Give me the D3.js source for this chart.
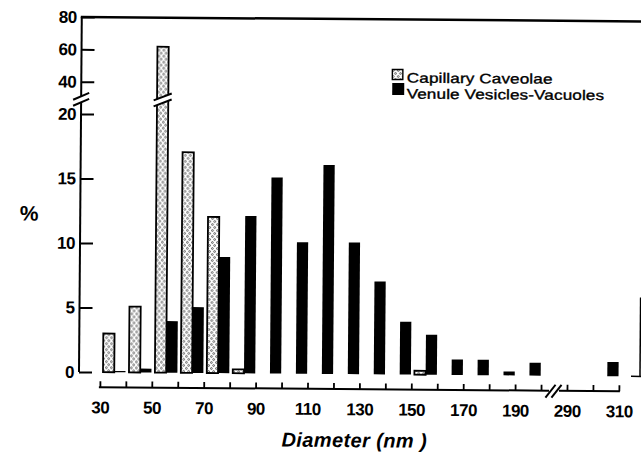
<!DOCTYPE html>
<html>
<head>
<meta charset="utf-8">
<script src="https://cdn.jsdelivr.net/npm/d3@7"></script>
<style>
  body { margin: 0; background: #fff; }
  svg { display: block; font-family: "Liberation Sans", Arial, Helvetica, sans-serif; }
</style>
</head>
<body>
<div id="container"></div>
<script>
// bin = left edge of each 10 nm class (the last one sits after the axis break)
const bins = [30, 40, 50, 60, 70, 80, 90, 100, 110, 120, 130, 140, 150, 160, 170, 180, 190, 300];
const capillary = [3, 5.1, 62, 17.1, 12.1, 0.3, 0, 0, 0, 0, 0, 0, 0.3, 0, 0, 0, 0, 0];
const venule = [0.1, 0.3, 4, 5.1, 9, 12.2, 15.2, 10.2, 16.2, 10.2, 7.2, 4.1, 3.1, 1.2, 1.2, 0.3, 1, 1.1];

const xTicks = [30, 40, 50, 60, 70, 80, 90, 100, 110, 120, 130, 140, 150, 160, 170, 180, 190, 200, 290, 300, 310];
const xLabels = [30, 50, 70, 90, 110, 130, 150, 170, 190, 290, 310];
const yTicks = [0, 5, 10, 15, 20, 40, 60, 80];
const seriesNames = ["Capillary Caveolae", "Venule Vesicles-Vacuoles"];

const setAttrs = (el, attrs) =>
  Object.entries(attrs).reduce((acc, [key, val]) => acc.attr(key, val), el);

// the x axis skips 200..280 nm
const toAxis = (v) => (v > 250 ? v - 80 : v);
const fromAxis = (v) => (v > 200 ? v + 80 : v);

const svg = d3.select("#container").append("svg");
setAttrs(svg, { width: 641, height: 453 });

const defs = svg.append("defs");
const pat = defs.append("pattern");
setAttrs(pat, { id: "dots", width: 5, height: 6, patternUnits: "userSpaceOnUse" });
setAttrs(pat.append("rect"), { width: 5, height: 6, fill: "#fff" });
[[1.4, 1.5], [3.6, 4.5]].forEach(([cx, cy]) => {
  setAttrs(pat.append("circle"), { cx, cy, r: 0.9, fill: "none", stroke: "#222", "stroke-width": 0.7 });
});

// the scan is slightly tilted
const g = svg.append("g");
setAttrs(g, { transform: "rotate(0.45, 79, 372)" });

const x = d3.scaleLinear().domain([30, 230]).range([100, 619]);
const y = d3.scaleLinear().domain([0, 20, 80]).range([372, 114, 17]);
const band = d3.scaleBand().domain(seriesNames).range([3, 25.5]);
const axisX = 79;
const axisY = 387;

const breakMark = (cx, cy, hw) => {
  const pts = [[cx - hw, cy + 2], [cx + hw, cy - 5], [cx + hw, cy + 1], [cx - hw, cy + 8]];
  setAttrs(g.append("polygon"), { points: pts.join(" "), fill: "#fff" });
  [[pts[0], pts[1]], [pts[3], pts[2]]].forEach(([a, b]) => {
    setAttrs(g.append("line"), {
      x1: a[0], y1: a[1], x2: b[0], y2: b[1], stroke: "#000", "stroke-width": 2
    });
  });
};

// bars
const capData = bins.map((b, i) => ({ b, v: capillary[i] })).filter((d) => d.v > 0);
const venData = bins.map((b, i) => ({ b, v: venule[i] })).filter((d) => d.v > 0);

g.selectAll(".cap")
  .data(capData)
  .join("rect")
  .attr("class", "cap")
  .attr("x", (d) => x(toAxis(d.b)) + band(seriesNames[0]))
  .attr("y", (d) => y(d.v))
  .attr("width", band.bandwidth())
  .attr("height", (d) => y(0) - y(d.v))
  .attr("fill", "url(#dots)")
  .attr("stroke", "#000")
  .attr("stroke-width", 1.8);

g.selectAll(".ven")
  .data(venData)
  .join("rect")
  .attr("class", "ven")
  .attr("x", (d) => x(toAxis(d.b)) + band(seriesNames[1]))
  .attr("y", (d) => y(d.v))
  .attr("width", band.bandwidth())
  .attr("height", (d) => y(0) - y(d.v))
  .attr("fill", "#000");

// y axis
const yAxis = d3.axisLeft(y).tickValues(yTicks).tickSizeInner(-13).tickSizeOuter(0).tickPadding(5);
const yg = g.append("g").call(yAxis);
setAttrs(yg, { transform: `translate(${axisX},0)` });
yg.select(".domain").remove();
yg.selectAll("line").attr("stroke", "#000").attr("stroke-width", 2);
yg.selectAll("text")
  .attr("fill", "#000")
  .attr("font-size", 17)
  .attr("font-weight", "bold")
  .attr("letter-spacing", -0.5)
  .attr("font-family", "Liberation Sans, Arial, sans-serif");

setAttrs(g.append("line"), {
  x1: axisX, y1: y(80), x2: axisX, y2: y(0), stroke: "#000", "stroke-width": 2
});
setAttrs(g.append("line"), {
  x1: axisX - 1, y1: y(80), x2: 650, y2: y(80), stroke: "#000", "stroke-width": 2.5
});
// right frame remains
setAttrs(g.append("line"), { x1: 640, y1: 293, x2: 640, y2: y(0), stroke: "#000", "stroke-width": 1.5 });
setAttrs(g.append("line"), { x1: 631, y1: y(0), x2: 641, y2: y(0), stroke: "#000", "stroke-width": 1.5 });

breakMark(axisX, y(30), 8);
const big = capData.find((d) => d.v > 20);
breakMark(x(toAxis(big.b)) + band(seriesNames[0]) + band.bandwidth() / 2, y(30), 9);

// x axis
const xAxis = d3.axisBottom(x)
  .tickValues(xTicks.map(toAxis))
  .tickSizeInner(-6)
  .tickSizeOuter(0)
  .tickPadding(14)
  .tickFormat((d) => (xLabels.includes(fromAxis(d)) ? fromAxis(d) : ""));
const xg = g.append("g").call(xAxis);
setAttrs(xg, { transform: `translate(0,${axisY})` });
xg.select(".domain").remove();
xg.selectAll("line").attr("stroke", "#000").attr("stroke-width", 1.8);
xg.selectAll("text")
  .attr("fill", "#000")
  .attr("font-size", 17)
  .attr("font-weight", "bold")
  .attr("letter-spacing", -0.5)
  .attr("font-family", "Liberation Sans, Arial, sans-serif");

const gapMid = (x(toAxis(200)) + x(toAxis(290))) / 2;
setAttrs(g.append("line"), {
  x1: x(toAxis(30)) - 1, y1: axisY, x2: gapMid - 5, y2: axisY, stroke: "#000", "stroke-width": 2
});
setAttrs(g.append("line"), {
  x1: gapMid + 5, y1: axisY, x2: x(toAxis(310)) + 1, y2: axisY, stroke: "#000", "stroke-width": 2
});
[-3.5, 2.5].forEach((k) => {
  setAttrs(g.append("line"), {
    x1: gapMid + k - 5, y1: axisY + 7, x2: gapMid + k + 5, y2: axisY - 6, stroke: "#000", "stroke-width": 2
  });
});

// titles
setAttrs(g.append("text"), {
  x: 28, y: 221, "text-anchor": "middle", "font-size": 21, "font-weight": "bold"
}).text("%");

setAttrs(g.append("text"), {
  x: 282, y: 445, "font-size": 20, "font-weight": "bold", "font-style": "italic", "letter-spacing": 0.4
}).text("Diameter (nm )");

// legend
const legend = g.append("g");
setAttrs(legend, { transform: "translate(389.5,66.5)" });
seriesNames.forEach((name, i) => {
  setAttrs(legend.append("rect"), {
    x: 0.5,
    y: i * 14 + (i ? 0 : 0.5),
    width: i ? 12 : 10.5,
    height: i ? 12 : 10,
    fill: i ? "#000" : "url(#dots)",
    stroke: "#000",
    "stroke-width": i ? 0 : 1.4
  });
  setAttrs(legend.append("text"), {
    transform: `translate(15,${i * 16 + 13.5}) scale(1.24,1)`,
    "font-size": 13.8, "letter-spacing": 0.1, stroke: "#000", "stroke-width": 0.35
  }).text(name);
});
</script>
</body>
</html>
